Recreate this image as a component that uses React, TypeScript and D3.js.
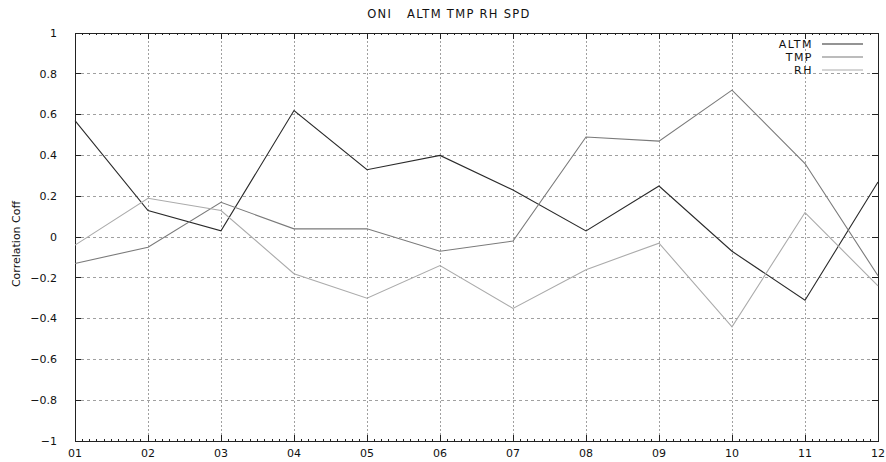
import React from "react";
import * as d3 from "d3";

const months = ["01", "02", "03", "04", "05", "06", "07", "08", "09", "10", "11", "12"];
const altm = [0.57, 0.13, 0.03, 0.62, 0.33, 0.40, 0.23, 0.03, 0.25, -0.07, -0.31, 0.27];
const tmp = [-0.13, -0.05, 0.17, 0.04, 0.04, -0.07, -0.02, 0.49, 0.47, 0.72, 0.36, -0.19];
const rh = [-0.04, 0.19, 0.13, -0.18, -0.30, -0.14, -0.35, -0.16, -0.03, -0.44, 0.12, -0.24];
const yTicks = [1, 0.8, 0.6, 0.4, 0.2, 0, -0.2, -0.4, -0.6, -0.8, -1];
const seriesNames = ["ALTM", "TMP", "RH"];
const title = "ONI   ALTM TMP RH SPD";
const yLabel = "Correlation Coff";

const W = 886, H = 462;
const L = 75, R = 878, T = 33, B = 441;
const font = "'DejaVu Sans', sans-serif";

export default function App() {
  const x = d3.scaleLinear().domain([0, months.length - 1]).range([L, R]);
  const y = d3.scaleLinear().domain([-1, 1]).range([B, T]);
  const series = [altm, tmp, rh];
  const colors = ["#2a2a2a", "#7a7a7a", "#ababab"];
  const line = d3.line<number>().x((_, i) => x(i)).y((d) => y(d));
  const minor = d3.range(0, (months.length - 1) * 10 + 1).map((k) => k / 10);
  const fmt = (v: number) => (v === 0 ? "0" : d3.format("")(+v.toFixed(1)).replace("-", "\u2212"));

  return (
    <svg width={W} height={H} style={{ position: "absolute", left: 0, top: 0, background: "#fff" }}>
      <g shapeRendering="crispEdges">
        {months.map((m, i) =>
          i > 0 && i < months.length - 1 ? (
            <line key={"vg" + m} x1={x(i)} x2={x(i)} y1={T} y2={B} stroke="#a0a0a0" strokeDasharray="2,2" />
          ) : null
        )}
        {yTicks.map((v) =>
          v !== 1 && v !== -1 ? (
            <line key={"hg" + v} x1={L} x2={R} y1={y(v)} y2={y(v)} stroke="#a0a0a0" strokeDasharray="3,3" />
          ) : null
        )}
        {minor.map((k) => {
          const major = Math.abs(k - Math.round(k)) < 1e-6;
          const len = major ? 6 : 2;
          return (
            <g key={"mt" + k}>
              <line x1={x(k)} x2={x(k)} y1={B} y2={B - len} stroke="#222" />
              <line x1={x(k)} x2={x(k)} y1={T} y2={T + len} stroke="#222" />
            </g>
          );
        })}
        {yTicks.map((v) => (
          <g key={"yt" + v}>
            <line x1={L} x2={L + 6} y1={y(v)} y2={y(v)} stroke="#222" />
            <line x1={R} x2={R - 6} y1={y(v)} y2={y(v)} stroke="#222" />
          </g>
        ))}
        <rect x={L} y={T} width={R - L} height={B - T} fill="none" stroke="#222" />
      </g>
      {series.map((s, i) => (
        <path key={seriesNames[i]} d={line(s) || ""} fill="none" stroke={colors[i]} strokeWidth={1.1} />
      ))}
      {seriesNames.map((n, i) => (
        <g key={"lg" + n}>
          <text x={813} y={44 + i * 13} dy="0.35em" textAnchor="end" fontFamily={font} fontSize={11} letterSpacing={1.5} fill="#111">
            {n}
          </text>
          <line x1={822} x2={863} y1={44 + i * 13} y2={44 + i * 13} stroke={colors[i]} strokeWidth={1.1} />
        </g>
      ))}
      {yTicks.map((v) => (
        <text key={"yl" + v} x={57} y={y(v)} dy="0.35em" textAnchor="end" fontFamily={font} fontSize={11} fill="#111">
          {fmt(v)}
        </text>
      ))}
      {months.map((m, i) => (
        <text key={"xl" + m} x={x(i)} y={453} dy="0.35em" textAnchor="middle" fontFamily={font} fontSize={11} fill="#111">
          {m}
        </text>
      ))}
      <text x={449} y={14} dy="0.35em" textAnchor="middle" fontFamily={font} fontSize={11.5} letterSpacing={1.3} fill="#111" style={{ whiteSpace: "pre" }}>
        {title}
      </text>
      <text
        transform={`translate(16,${(T + B) / 2 + 7}) rotate(-90)`}
        dy="0.35em"
        textAnchor="middle"
        fontFamily={font}
        fontSize={11}
        fill="#111"
      >
        {yLabel}
      </text>
    </svg>
  );
}
